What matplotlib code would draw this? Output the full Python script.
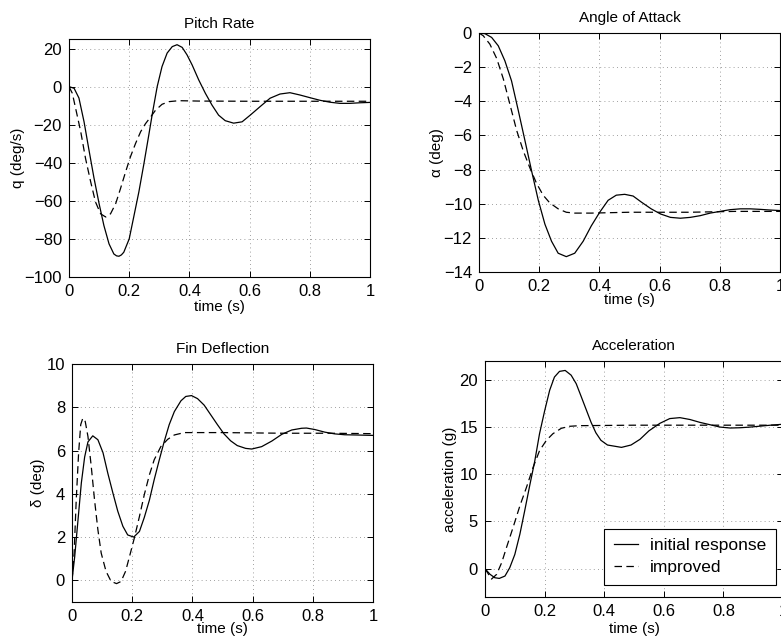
import numpy as np
import matplotlib
matplotlib.use('Agg')
import matplotlib.pyplot as plt

plt.rcParams['font.family'] = ['Liberation Sans', 'DejaVu Sans']

# values, initial response (solid) and improved (dashed)
pitch_t_init = [0, 0.017, 0.033, 0.05, 0.066, 0.083, 0.1, 0.116, 0.133, 0.149, 0.158, 0.166, 0.174,
                0.182, 0.2, 0.215, 0.232, 0.249, 0.265, 0.278, 0.293, 0.309, 0.326, 0.343, 0.359,
                0.376, 0.392, 0.409, 0.431, 0.453, 0.475, 0.497, 0.519, 0.547, 0.575, 0.602, 0.635,
                0.668, 0.701, 0.734, 0.767, 0.8, 0.834, 0.867, 0.9, 0.933, 0.966, 1.0]
pitch_init = [0, -0.9, -6, -18.5, -33, -48, -61.5, -73, -82.6, -87.9, -88.9, -89.1, -88.4,
              -87, -80, -68.5, -55.4, -40.4, -25.5, -13.2, 0, 10.5, 17.6, 21, 22,
              20.6, 16.7, 11.4, 3.5, -3.5, -9.7, -15, -17.9, -19.2, -18.5, -15, -10.5,
              -6.1, -3.9, -3.2, -4.4, -5.8, -7.2, -8.2, -8.8, -8.8, -8.5, -8.3]
pitch_t_impr = [0, 0.011, 0.022, 0.039, 0.055, 0.072, 0.088, 0.105, 0.122, 0.138, 0.155, 0.171,
                0.188, 0.204, 0.221, 0.238, 0.254, 0.271, 0.287, 0.309, 0.332, 0.365, 0.431,
                0.6, 0.8, 1.0]
pitch_impr = [0, -3.5, -11.4, -23.7, -37.8, -50, -60.6, -66.8, -68.5, -66.8, -61.5, -53.6,
              -44.8, -36.9, -29.9, -23.7, -19.5, -16, -12.5, -9.3, -7.9, -7.4, -7.6,
              -7.7, -7.7, -7.7]

aoa_t_init = [0, 0.02, 0.042, 0.064, 0.086, 0.108, 0.13, 0.152, 0.175, 0.197, 0.219, 0.241, 0.263,
              0.29, 0.318, 0.346, 0.373, 0.401, 0.429, 0.456, 0.484, 0.512, 0.539, 0.572, 0.603,
              0.636, 0.669, 0.702, 0.735, 0.768, 0.801, 0.834, 0.868, 0.901, 0.934, 0.967, 1.0]
aoa_init = [0, -0.04, -0.26, -0.75, -1.63, -2.8, -4.5, -6.25, -8.1, -9.8, -11.2, -12.2, -12.9,
            -13.1, -12.9, -12.2, -11.3, -10.5, -9.8, -9.5, -9.45, -9.55, -9.9, -10.3, -10.6,
            -10.8, -10.85, -10.8, -10.7, -10.55, -10.45, -10.35, -10.3, -10.3, -10.33, -10.37, -10.4]
aoa_t_impr = [0, 0.014, 0.036, 0.059, 0.081, 0.103, 0.125, 0.147, 0.169, 0.191, 0.213, 0.235,
              0.263, 0.29, 0.318, 0.373, 0.5, 0.7, 0.85, 1.0]
aoa_impr = [0, -0.16, -0.65, -1.5, -2.7, -4.2, -5.7, -6.9, -7.9, -8.8, -9.5, -9.95,
            -10.3, -10.5, -10.55, -10.55, -10.5, -10.5, -10.45, -10.45]

fin_t_init = [0, 0.009, 0.02, 0.031, 0.042, 0.053, 0.069, 0.086, 0.103, 0.119, 0.136, 0.152,
              0.169, 0.185, 0.205, 0.224, 0.24, 0.257, 0.273, 0.29, 0.306, 0.323, 0.34, 0.362,
              0.378, 0.397, 0.417, 0.439, 0.461, 0.483, 0.505, 0.527, 0.549, 0.577, 0.597, 0.63,
              0.664, 0.697, 0.73, 0.763, 0.779, 0.807, 0.84, 0.873, 0.906, 0.94, 1.0]
fin_init = [0, 1.1, 2.8, 4.5, 5.7, 6.4, 6.68, 6.5, 5.9, 4.95, 4.03, 3.2,
            2.5, 2.1, 2.0, 2.26, 2.9, 3.7, 4.65, 5.57, 6.4, 7.2, 7.8, 8.3,
            8.5, 8.54, 8.4, 8.1, 7.65, 7.2, 6.77, 6.45, 6.23, 6.1, 6.07, 6.18,
            6.44, 6.75, 6.95, 7.03, 7.04, 6.97, 6.85, 6.77, 6.73, 6.72, 6.7]
fin_t_impr = [0, 0.007, 0.014, 0.022, 0.029, 0.036, 0.044, 0.053, 0.064, 0.075, 0.086, 0.097,
              0.113, 0.13, 0.148, 0.163, 0.178, 0.191, 0.207, 0.224, 0.24, 0.257, 0.273, 0.295,
              0.318, 0.34, 0.373, 0.5, 0.7, 0.85, 1.0]
fin_impr = [0, 1.26, 3.7, 5.9, 7.2, 7.5, 7.34, 6.65, 5.26, 3.7, 2.34, 1.26,
            0.42, -0.05, -0.15, -0.05, 0.42, 1.1, 1.95, 2.95, 3.95, 4.87, 5.57, 6.18,
            6.52, 6.72, 6.83, 6.83, 6.8, 6.8, 6.78]

acc_t_init = [0, 0.017, 0.033, 0.048, 0.067, 0.083, 0.1, 0.117, 0.133, 0.15, 0.167, 0.183, 0.2,
              0.217, 0.233, 0.25, 0.269, 0.289, 0.306, 0.322, 0.339, 0.356, 0.372, 0.389, 0.411,
              0.458, 0.49, 0.52, 0.55, 0.587, 0.62, 0.654, 0.688, 0.721, 0.755, 0.789, 0.823,
              0.856, 0.89, 0.924, 0.958, 1.0]
acc_init = [0, -0.6, -0.96, -1.03, -0.78, 0.1, 1.5, 3.65, 6.1, 8.8, 11.4, 14.3, 16.7,
            18.9, 20.3, 20.9, 21.0, 20.5, 19.6, 18.3, 16.9, 15.5, 14.4, 13.6, 13.1,
            12.85, 13.1, 13.7, 14.6, 15.4, 15.9, 16.0, 15.8, 15.5, 15.25, 15.0, 14.9,
            14.93, 15.0, 15.1, 15.2, 15.3]
acc_t_impr = [0, 0.01, 0.022, 0.039, 0.056, 0.072, 0.094, 0.117, 0.139, 0.161, 0.183, 0.206,
              0.228, 0.256, 0.283, 0.317, 0.5, 0.7, 0.85, 1.0]
acc_impr = [0, -0.5, -1.1, -0.6, 0.64, 2.23, 4.35, 6.65, 8.6, 10.7, 12.5, 13.6,
            14.3, 14.87, 15.08, 15.15, 15.2, 15.2, 15.2, 15.2]

titles = ['Pitch Rate', 'Angle of Attack', 'Fin Deflection', 'Acceleration']
ylabels = ['q (deg/s)', 'α (deg)', 'δ (deg)', 'acceleration (g)']
ylims = [(-100, 25), (-14, 0), (-1, 10), (-3, 22)]
yticks = [np.arange(-100, 21, 20), np.arange(-14, 1, 2), np.arange(0, 11, 2), np.arange(0, 21, 5)]
xticks = [0, 0.2, 0.4, 0.6, 0.8, 1]

series = [(pitch_t_init, pitch_init, pitch_t_impr, pitch_impr),
          (aoa_t_init, aoa_init, aoa_t_impr, aoa_impr),
          (fin_t_init, fin_init, fin_t_impr, fin_impr),
          (acc_t_init, acc_init, acc_t_impr, acc_impr)]

W, H = 781, 643
# axes boxes in pixels: left, top, right, bottom
boxes = [(69, 39, 370, 277), (479, 33, 780, 272), (72, 364, 373, 602), (485, 361, 783, 597)]
# ylabel anchor is the right edge of the rotated text
ylab_x = [-0.146, -0.116, -0.09, -0.094]
xlab_y = [-0.097, -0.087, -0.084, -0.104]

fig = plt.figure(figsize=(W / 100, H / 100), dpi=100)
for i in range(4):
    l, t, r, b = boxes[i]
    ax = fig.add_axes([l / W, (H - b) / H, (r - l) / W, (b - t) / H])
    ti, yi, tp, yp = series[i]
    ax.plot(ti, yi, color='k', lw=0.9, label='initial response')
    line, = ax.plot(tp, yp, color='k', lw=0.9, label='improved')
    line.set_dashes((6, 3.5))

    ax.set_xlim(0, 1)
    ax.set_ylim(*ylims[i])
    ax.set_xticks(xticks)
    ax.set_xticklabels(['0', '0.2', '0.4', '0.6', '0.8', '1'])
    ax.set_yticks(yticks[i])
    ax.tick_params(direction='in', top=True, right=True, length=4, width=0.7,
                   labelsize=12, pad=5)
    ax.grid(True, color='0.5', linestyle=(0, (1, 4)), lw=0.6)
    for sp in ax.spines.values():
        sp.set_linewidth(0.8)

    ax.set_title(titles[i], fontsize=11, pad=8)
    ax.set_xlabel('time (s)', fontsize=11)
    ax.set_ylabel(ylabels[i], fontsize=11)
    ax.xaxis.set_label_coords(0.5, xlab_y[i])
    ax.yaxis.set_label_coords(ylab_x[i], 0.5)

    if i == 3:
        leg = ax.legend(loc='lower right', bbox_to_anchor=(0.977, 0.051), fontsize=12.5,
                        fancybox=False, framealpha=1, edgecolor='k', borderaxespad=0,
                        handlelength=1.4, handletextpad=0.7, labelspacing=0.4, borderpad=0.55)
        leg.get_frame().set_linewidth(0.8)

fig.savefig('out.png', dpi=100)
